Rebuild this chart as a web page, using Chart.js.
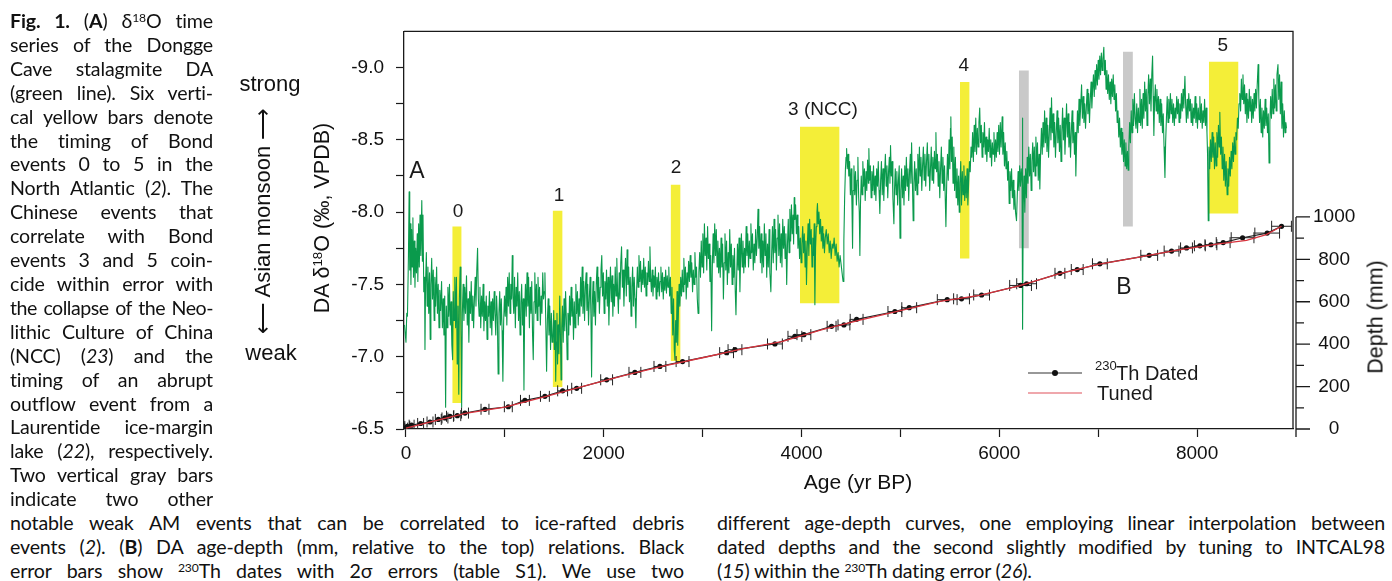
<!DOCTYPE html>
<html lang="en">
<head>
<meta charset="UTF-8" />
<title>Dongge Cave DA δ18O and age-depth</title>
<script src="https://cdn.jsdelivr.net/npm/chart.js"></script>
<style>
  body { margin:0; width:1392px; height:581px; background:#fff; position:relative; overflow:hidden;
         font-family:'Liberation Sans', Arial, sans-serif; color:#111; }
  #chart { position:absolute; left:0; top:0; }
  .cap { position:absolute; font-family:Lato, sans-serif; font-size:19.6px; line-height:23.9px; color:#111; letter-spacing:-0.15px; }
  .cap div { text-align:justify; text-align-last:justify; }
  .cap div.last { text-align-last:left; }
  .lbl { position:absolute; white-space:nowrap; transform:translate(-50%,-50%); font-size:22px; }
  .rot { transform:translate(-50%,-50%) rotate(-90deg); }
  sup { font-size:0.62em; line-height:0; vertical-align:0.5em; }
</style>
</head>
<body>
<canvas id="chart" width="1392" height="500"></canvas>

<!-- caption, left column -->
<div class="cap" style="left:10px; top:9px; width:203px;">
  <div><b>Fig. 1.</b> (<b>A</b>) δ<sup>18</sup>O time</div>
  <div>series of the Dongge</div>
  <div>Cave stalagmite DA</div>
  <div>(green line). Six verti-</div>
  <div>cal yellow bars denote</div>
  <div>the timing of Bond</div>
  <div>events 0 to 5 in the</div>
  <div>North Atlantic (<i>2</i>). The</div>
  <div>Chinese events that</div>
  <div>correlate with Bond</div>
  <div>events 3 and 5 coin-</div>
  <div>cide within error with</div>
  <div style="letter-spacing:-0.5px">the collapse of the Neo-</div>
  <div>lithic Culture of China</div>
  <div>(NCC) (<i>23</i>) and the</div>
  <div>timing of an abrupt</div>
  <div>outflow event from a</div>
  <div>Laurentide ice-margin</div>
  <div>lake (<i>22</i>), respectively.</div>
  <div>Two vertical gray bars</div>
  <div>indicate two other</div>
</div>
<div class="cap" style="left:10px; top:511px; width:674px;">
  <div>notable weak AM events that can be correlated to ice-rafted debris</div>
  <div>events (<i>2</i>). (<b>B</b>) DA age-depth (mm, relative to the top) relations. Black</div>
  <div>error bars show <sup>230</sup>Th dates with 2σ errors (table S1). We use two</div>
</div>
<div class="cap" style="left:717px; top:511px; width:668px;">
  <div>different age-depth curves, one employing linear interpolation between</div>
  <div>dated depths and the second slightly modified by tuning to INTCAL98</div>
  <div class="last">(<i>15</i>) within the <sup>230</sup>Th dating error (<i>26</i>).</div>
</div>

<!-- axis titles -->
<div class="lbl" style="left:270px; top:84px;">strong</div>
<div class="lbl" style="left:271px; top:353px;">weak</div>
<div class="lbl rot" style="left:263px; top:221px;">⟵ Asian monsoon ⟶</div>
<div class="lbl rot" style="left:322px; top:218px; font-size:21.5px;">DA δ<sup>18</sup>O (‰, VPDB)</div>
<div class="lbl rot" style="left:1376px; top:317px; font-size:21.5px;">Depth (mm)</div>
<div class="lbl" style="left:858px; top:482px; font-size:21px;">Age (yr BP)</div>

<script>
const FONT = "'Liberation Sans', Arial, Helvetica, sans-serif";
const INK = '#1a1a1a';

// age axis ticks (yr BP); only every other one is labelled
const ageTicks = [0, 1000, 2000, 3000, 4000, 5000, 6000, 7000, 8000];

// DA stalagmite d18O (yr BP, permil VPDB)
const ageYr = [
  -15, 0, 8, 15, 25, 32, 38, 44, 50, 57,
  63, 70, 76, 84, 91, 98, 106, 114, 120, 128,
  135, 142, 150, 160, 166, 172, 180, 188, 192, 198,
  206, 214, 222, 230, 238, 245, 252, 260, 268, 276,
  285, 292, 300, 310, 318, 326, 334, 342, 350, 360,
  368, 376, 384, 392, 401, 408, 416, 424, 432, 440,
  448, 456, 464, 472, 478, 486, 494, 502, 510, 518,
  526, 534, 540, 548, 556, 563, 570, 578, 586, 594,
  602, 612, 620, 628, 636, 644, 652, 660, 668, 676,
  684, 692, 700, 708, 716, 724, 732, 740, 748, 756,
  764, 772, 780, 788, 796, 804, 812, 820, 828, 836,
  844, 852, 860, 868, 876, 884, 892, 900, 908, 916,
  924, 932, 940, 948, 956, 964, 972, 980, 988, 996,
  1004, 1012, 1020, 1028, 1036, 1044, 1052, 1060, 1068, 1075,
  1082, 1090, 1098, 1106, 1114, 1122, 1130, 1138, 1146, 1154,
  1162, 1170, 1178, 1186, 1193, 1200, 1208, 1216, 1224, 1232,
  1240, 1248, 1256, 1264, 1272, 1280, 1287, 1295, 1303, 1311,
  1319, 1327, 1335, 1343, 1351, 1359, 1367, 1375, 1383, 1391,
  1399, 1405, 1412, 1422, 1430, 1438, 1446, 1454, 1462, 1470,
  1478, 1486, 1494, 1500, 1507, 1514, 1520, 1527, 1533, 1540,
  1547, 1555, 1562, 1568, 1575, 1582, 1590, 1598, 1606, 1614,
  1622, 1630, 1638, 1646, 1654, 1662, 1670, 1678, 1686, 1694,
  1702, 1710, 1718, 1726, 1734, 1742, 1750, 1758, 1766, 1774,
  1782, 1790, 1798, 1806, 1814, 1822, 1830, 1838, 1846, 1854,
  1862, 1870, 1877, 1884, 1892, 1900, 1908, 1916, 1924, 1932,
  1940, 1948, 1956, 1964, 1972, 1980, 1988, 1996, 2004, 2012,
  2020, 2028, 2036, 2044, 2052, 2060, 2068, 2076, 2084, 2092,
  2100, 2108, 2116, 2124, 2132, 2140, 2148, 2156, 2164, 2172,
  2180, 2188, 2196, 2204, 2212, 2220, 2228, 2236, 2244, 2252,
  2260, 2268, 2276, 2284, 2292, 2300, 2308, 2316, 2325, 2332,
  2340, 2348, 2356, 2364, 2372, 2380, 2388, 2396, 2404, 2412,
  2420, 2428, 2436, 2444, 2452, 2460, 2467, 2474, 2482, 2490,
  2498, 2506, 2514, 2522, 2530, 2538, 2546, 2554, 2562, 2570,
  2578, 2586, 2594, 2602, 2610, 2618, 2626, 2634, 2642, 2650,
  2658, 2666, 2674, 2682, 2690, 2698, 2706, 2713, 2720, 2727,
  2734, 2741, 2748, 2755, 2762, 2770, 2778, 2786, 2794, 2802,
  2810, 2818, 2826, 2834, 2842, 2850, 2858, 2866, 2874, 2882,
  2890, 2898, 2906, 2914, 2922, 2930, 2938, 2946, 2954, 2962,
  2970, 2978, 2986, 2994, 3002, 3010, 3018, 3026, 3034, 3042,
  3050, 3058, 3066, 3074, 3082, 3091, 3098, 3106, 3114, 3122,
  3130, 3138, 3146, 3154, 3162, 3170, 3178, 3186, 3194, 3202,
  3210, 3218, 3226, 3234, 3242, 3250, 3258, 3266, 3274, 3282,
  3290, 3298, 3306, 3314, 3322, 3330, 3337, 3344, 3352, 3360,
  3368, 3377, 3384, 3392, 3400, 3408, 3416, 3424, 3432, 3440,
  3448, 3456, 3464, 3472, 3480, 3488, 3496, 3504, 3512, 3520,
  3528, 3536, 3544, 3552, 3560, 3568, 3576, 3584, 3592, 3600,
  3608, 3616, 3624, 3632, 3640, 3648, 3656, 3664, 3672, 3680,
  3690, 3698, 3706, 3714, 3722, 3730, 3738, 3746, 3754, 3762,
  3770, 3778, 3786, 3794, 3802, 3810, 3818, 3826, 3834, 3842,
  3850, 3858, 3866, 3874, 3882, 3890, 3898, 3906, 3914, 3920,
  3926, 3932, 3940, 3948, 3956, 3964, 3972, 3980, 3988, 3996,
  4004, 4012, 4020, 4028, 4036, 4044, 4050, 4058, 4066, 4074,
  4082, 4090, 4098, 4106, 4114, 4122, 4128, 4135, 4142, 4150,
  4156, 4161, 4168, 4176, 4184, 4192, 4200, 4208, 4216, 4224,
  4232, 4240, 4250, 4260, 4270, 4280, 4290, 4300, 4310, 4320,
  4330, 4340, 4350, 4360, 4370, 4380, 4390, 4400, 4410, 4420,
  4428, 4436, 4444, 4450, 4456, 4462, 4470, 4478, 4486, 4494,
  4502, 4510, 4516, 4522, 4530, 4538, 4546, 4555, 4562, 4570,
  4578, 4584, 4590, 4596, 4604, 4612, 4620, 4628, 4636, 4644,
  4652, 4660, 4668, 4676, 4681, 4688, 4696, 4704, 4712, 4720,
  4728, 4736, 4744, 4752, 4760, 4768, 4776, 4784, 4792, 4800,
  4808, 4816, 4824, 4832, 4840, 4848, 4856, 4864, 4872, 4880,
  4888, 4894, 4900, 4908, 4916, 4924, 4934, 4940, 4948, 4956,
  4964, 4972, 4980, 4988, 4996, 5004, 5012, 5020, 5028, 5036,
  5044, 5052, 5060, 5068, 5076, 5084, 5092, 5100, 5106, 5113,
  5120, 5129, 5136, 5144, 5152, 5160, 5168, 5176, 5184, 5192,
  5200, 5208, 5216, 5224, 5232, 5240, 5248, 5256, 5264, 5272,
  5280, 5288, 5296, 5304, 5312, 5320, 5328, 5336, 5344, 5352,
  5359, 5366, 5374, 5382, 5390, 5398, 5406, 5414, 5422, 5430,
  5438, 5446, 5454, 5460, 5468, 5476, 5484, 5492, 5500, 5506,
  5510, 5516, 5524, 5532, 5540, 5548, 5556, 5564, 5572, 5580,
  5588, 5595, 5602, 5610, 5618, 5626, 5634, 5642, 5650, 5658,
  5666, 5674, 5682, 5690, 5698, 5706, 5714, 5722, 5730, 5738,
  5746, 5754, 5762, 5770, 5778, 5786, 5794, 5802, 5810, 5818,
  5826, 5834, 5842, 5850, 5858, 5866, 5874, 5882, 5890, 5898,
  5906, 5914, 5922, 5930, 5938, 5946, 5954, 5962, 5970, 5978,
  5986, 5994, 6002, 6010, 6018, 6029, 6036, 6044, 6052, 6060,
  6068, 6076, 6084, 6092, 6100, 6108, 6116, 6124, 6132, 6140,
  6148, 6156, 6164, 6174, 6182, 6190, 6198, 6206, 6214, 6222,
  6230, 6234, 6237, 6242, 6250, 6258, 6266, 6274, 6282, 6290,
  6298, 6306, 6314, 6322, 6330, 6338, 6346, 6354, 6362, 6370,
  6378, 6386, 6394, 6402, 6410, 6418, 6426, 6434, 6442, 6450,
  6458, 6466, 6474, 6482, 6490, 6498, 6506, 6514, 6522, 6528,
  6536, 6544, 6552, 6560, 6568, 6576, 6584, 6592, 6600, 6608,
  6616, 6624, 6632, 6640, 6648, 6656, 6664, 6672, 6680, 6688,
  6696, 6704, 6712, 6720, 6728, 6736, 6744, 6752, 6760, 6768,
  6774, 6782, 6790, 6798, 6806, 6814, 6822, 6832, 6840, 6848,
  6856, 6864, 6872, 6880, 6888, 6896, 6904, 6912, 6920, 6928,
  6936, 6944, 6952, 6960, 6968, 6976, 6984, 6992, 7000, 7008,
  7016, 7024, 7032, 7040, 7048, 7057, 7064, 7072, 7080, 7088,
  7096, 7104, 7112, 7120, 7128, 7136, 7144, 7152, 7160, 7168,
  7176, 7184, 7192, 7200, 7208, 7216, 7224, 7232, 7240, 7248,
  7256, 7264, 7272, 7280, 7288, 7296, 7303, 7310, 7318, 7326,
  7334, 7342, 7350, 7358, 7366, 7374, 7382, 7390, 7398, 7406,
  7414, 7422, 7430, 7438, 7446, 7454, 7462, 7470, 7478, 7486,
  7494, 7502, 7510, 7518, 7526, 7534, 7542, 7550, 7556, 7563,
  7570, 7578, 7586, 7594, 7602, 7610, 7618, 7626, 7634, 7642,
  7650, 7658, 7666, 7675, 7682, 7690, 7698, 7706, 7714, 7722,
  7730, 7738, 7746, 7754, 7762, 7770, 7778, 7786, 7794, 7802,
  7810, 7818, 7826, 7834, 7842, 7850, 7858, 7866, 7877, 7884,
  7892, 7900, 7908, 7916, 7924, 7932, 7940, 7948, 7956, 7964,
  7972, 7980, 7988, 7996, 8004, 8012, 8020, 8028, 8036, 8044,
  8052, 8060, 8068, 8076, 8084, 8092, 8100, 8106, 8113, 8120,
  8128, 8136, 8144, 8152, 8160, 8168, 8176, 8184, 8192, 8200,
  8208, 8216, 8224, 8230, 8238, 8246, 8254, 8262, 8270, 8278,
  8286, 8294, 8304, 8312, 8320, 8328, 8336, 8344, 8352, 8360,
  8368, 8376, 8384, 8392, 8400, 8408, 8416, 8424, 8432, 8440,
  8448, 8456, 8464, 8472, 8480, 8488, 8496, 8504, 8512, 8520,
  8528, 8536, 8544, 8552, 8560, 8568, 8576, 8584, 8592, 8600,
  8608, 8617, 8624, 8632, 8640, 8648, 8656, 8664, 8672, 8680,
  8688, 8696, 8704, 8712, 8720, 8728, 8736, 8744, 8752, 8760,
  8768, 8776, 8784, 8792, 8800, 8808, 8818, 8826, 8834, 8842,
  8850, 8858, 8866, 8874, 8882, 8890, 8898, 8904
];
const d18O = [
  -7.22, -7.10, -7.30, -7.28, -7.70, -8.14, -7.60, -7.92, -7.50, -7.88,
  -7.62, -7.96, -7.55, -7.80, -7.48, -7.75, -7.58, -7.85, -7.52, -7.92,
  -7.62, -7.98, -7.70, -8.08, -7.66, -7.98, -7.45, -7.55, -7.05, -7.50,
  -7.72, -7.35, -7.62, -7.30, -7.58, -7.12, -7.50, -7.68, -7.40, -7.60,
  -7.25, -7.55, -7.35, -7.62, -7.30, -7.50, -7.20, -7.46, -7.32, -7.52,
  -7.20, -7.40, -7.15, -7.42, -6.65, -7.35, -7.20, -7.48, -7.28, -7.50,
  -7.22, -7.38, -7.08, -6.98, -7.45, -7.25, -7.55, -7.20, -7.55, -6.95,
  -7.35, -6.74, -7.40, -7.62, -7.20, -6.65, -7.30, -7.50, -7.25, -7.48,
  -7.30, -7.56, -7.22, -7.40, -7.10, -7.45, -7.30, -7.52, -7.25, -7.42,
  -7.20, -7.40, -7.55, -7.35, -7.60, -7.75, -7.40, -7.28, -7.48, -7.20,
  -7.42, -7.28, -7.50, -7.18, -7.38, -7.25, -7.42, -7.12, -7.35, -7.28,
  -7.45, -7.20, -7.38, -7.15, -7.40, -7.25, -7.45, -7.30, -7.15, -7.42,
  -7.28, -6.88, -7.30, -7.45, -7.22, -7.40, -7.18, -6.83, -7.25, -7.42,
  -7.28, -7.48, -7.22, -7.55, -7.35, -7.58, -7.30, -7.50, -7.40, -7.70,
  -7.42, -7.30, -7.55, -7.20, -7.48, -7.35, -7.58, -7.25, -7.45, -7.15,
  -7.38, -7.50, -7.22, -7.40, -6.77, -7.30, -7.50, -7.28, -7.58, -7.35,
  -7.55, -7.20, -7.48, -7.30, -7.52, -7.15, -6.98, -7.38, -7.58, -7.30,
  -7.50, -7.25, -7.55, -7.35, -7.48, -7.22, -7.42, -7.30, -7.58, -7.40,
  -7.45, -7.58, -7.30, -6.90, -7.25, -7.40, -7.15, -7.35, -7.05, -7.30,
  -7.10, -7.12, -7.32, -7.05, -7.25, -6.83, -7.10, -7.30, -6.95, -7.22,
  -7.02, -7.42, -7.15, -6.84, -7.20, -7.35, -7.10, -7.40, -7.18, -7.45,
  -7.25, -6.98, -7.30, -7.15, -7.42, -7.22, -7.48, -7.28, -7.40, -7.12,
  -7.38, -7.20, -7.50, -7.30, -7.45, -7.22, -7.40, -7.28, -7.55, -7.35,
  -7.62, -7.30, -7.52, -7.25, -7.48, -7.58, -7.32, -7.50, -7.22, -7.40,
  -7.55, -7.30, -6.86, -7.35, -7.52, -7.28, -7.45, -7.22, -7.50, -7.62,
  -7.38, -7.55, -7.30, -7.48, -7.60, -7.70, -7.42, -7.58, -7.30, -7.52,
  -7.40, -7.60, -7.35, -7.55, -7.22, -7.45, -7.62, -7.38, -7.56, -7.28,
  -7.50, -7.35, -7.62, -7.42, -7.68, -7.45, -7.30, -7.58, -7.40, -7.65,
  -7.76, -7.48, -7.60, -7.35, -7.55, -7.68, -7.42, -7.74, -7.50, -7.62,
  -7.38, -7.55, -7.28, -7.48, -7.62, -7.35, -7.55, -7.40, -7.20, -7.45,
  -7.62, -7.48, -7.70, -7.52, -7.66, -7.45, -7.60, -7.50, -7.68, -7.48,
  -7.62, -7.42, -7.58, -7.50, -7.66, -7.52, -7.76, -7.55, -7.45, -7.60,
  -7.42, -7.56, -7.48, -7.62, -7.40, -7.55, -7.45, -7.58, -7.42, -7.52,
  -7.62, -7.45, -7.58, -7.40, -7.55, -7.46, -7.60, -7.44, -7.56, -7.48,
  -7.62, -7.42, -7.55, -7.30, -7.48, -7.15, -7.40, -7.05, -6.98, -7.25,
  -7.10, -7.45, -7.08, -7.30, -7.50, -7.35, -7.55, -7.42, -7.60, -7.45,
  -7.68, -7.50, -7.62, -7.40, -7.58, -7.48, -7.66, -7.52, -7.70, -7.55,
  -7.65, -7.45, -7.60, -7.50, -7.72, -7.55, -7.62, -7.40, -7.30, -7.58,
  -7.72, -7.55, -7.80, -7.62, -7.85, -7.58, -7.92, -7.70, -7.82, -7.60,
  -7.90, -7.68, -7.78, -7.52, -7.70, -7.18, -7.62, -7.85, -7.65, -7.92,
  -7.70, -7.88, -7.62, -7.80, -7.58, -7.75, -7.55, -7.82, -7.62, -7.78,
  -7.40, -7.65, -7.85, -7.60, -7.80, -7.50, -7.72, -7.58, -7.88, -7.62,
  -7.78, -7.50, -7.70, -7.55, -7.75, -7.45, -7.29, -7.55, -7.78, -7.60,
  -7.82, -7.45, -7.68, -7.85, -7.62, -7.80, -7.58, -7.75, -7.62, -7.90,
  -7.70, -7.85, -7.62, -7.80, -7.68, -7.92, -7.72, -7.85, -7.60, -7.78,
  -7.65, -7.88, -7.70, -7.82, -8.02, -7.75, -7.90, -7.65, -7.85, -7.58,
  -7.80, -7.62, -7.92, -7.70, -7.85, -7.55, -7.78, -7.62, -7.88, -7.58,
  -7.45, -7.72, -7.90, -7.65, -7.95, -7.72, -7.88, -7.60, -7.82, -7.98,
  -7.70, -7.92, -7.65, -7.85, -7.62, -7.95, -7.75, -7.90, -7.68, -7.85,
  -7.50, -7.78, -7.95, -7.72, -8.02, -7.80, -8.05, -7.85, -7.98, -7.78,
  -8.10, -7.95, -8.05, -7.85, -7.98, -7.75, -7.90, -7.68, -7.82, -7.65,
  -7.78, -7.90, -7.72, -7.85, -7.62, -7.80, -7.50, -7.75, -7.92, -7.70,
  -7.95, -7.78, -7.88, -7.62, -7.82, -7.70, -7.92, -7.36, -7.75, -7.90,
  -8.00, -8.06, -7.92, -8.00, -7.85, -7.95, -7.80, -7.90, -7.75, -7.85,
  -7.72, -7.82, -7.88, -7.78, -7.85, -7.72, -7.80, -7.68, -7.78, -7.75,
  -7.82, -7.70, -7.78, -7.66, -7.72, -7.62, -7.70, -7.64, -7.58, -7.52,
  -7.80, -8.10, -8.30, -8.38, -8.44, -8.30, -8.40, -8.25, -8.35, -8.12,
  -8.30, -8.05, -7.75, -8.15, -8.32, -8.12, -8.28, -8.05, -8.22, -8.38,
  -8.10, -8.00, -7.70, -8.05, -8.25, -8.12, -8.35, -8.18, -8.30, -8.08,
  -8.28, -8.15, -8.36, -8.20, -8.44, -8.22, -8.32, -8.10, -8.28, -8.15,
  -8.32, -8.12, -8.25, -8.08, -8.30, -8.18, -8.35, -8.15, -7.99, -8.22,
  -8.35, -8.12, -8.30, -8.08, -8.26, -8.40, -8.18, -8.32, -8.10, -8.28,
  -8.38, -8.20, -8.46, -8.25, -8.35, -8.10, -7.92, -8.15, -8.30, -8.12,
  -8.28, -8.05, -8.22, -8.32, -7.82, -8.15, -8.30, -8.10, -8.25, -8.05,
  -8.32, -8.15, -8.38, -8.18, -8.30, -8.08, -8.28, -8.40, -8.20, -8.48,
  -8.25, -7.94, -8.20, -8.35, -8.15, -8.30, -8.12, -8.40, -8.20, -8.45,
  -8.25, -8.38, -8.15, -8.32, -8.45, -8.22, -8.40, -8.18, -8.35, -8.48,
  -8.25, -8.40, -8.15, -8.30, -8.45, -8.22, -8.38, -8.20, -8.42, -8.30,
  -8.55, -8.28, -8.40, -8.18, -8.35, -8.10, -8.30, -8.45, -8.20, -8.38,
  -8.15, -8.32, -8.08, -7.90, -8.20, -8.40, -8.22, -8.50, -8.30, -8.58,
  -8.66, -8.35, -8.52, -8.20, -8.45, -8.15, -8.38, -8.10, -8.30, -8.05,
  -8.25, -8.00, -8.20, -8.35, -8.05, -8.28, -8.12, -8.32, -8.08, -8.25,
  -8.10, -8.30, -8.05, -8.20, -8.35, -8.28, -8.45, -8.38, -8.55, -8.35,
  -8.60, -8.42, -8.65, -8.40, -8.58, -8.45, -8.62, -8.72, -8.48, -8.60,
  -8.38, -8.55, -8.45, -8.62, -8.40, -8.52, -8.35, -8.50, -8.42, -8.58,
  -8.38, -8.50, -8.32, -8.48, -8.40, -8.55, -8.35, -8.50, -8.38, -8.55,
  -8.42, -8.60, -8.40, -8.62, -8.45, -8.66, -8.40, -8.55, -8.32, -8.48,
  -8.30, -8.42, -8.22, -8.35, -8.06, -8.28, -8.15, -8.30, -8.10, -8.22,
  -8.02, -8.15, -8.00, -7.94, -8.12, -8.28, -8.15, -8.32, -8.18, -8.30,
  -8.20, -8.65, -7.19, -8.05, -8.25, -8.00, -8.30, -8.10, -8.38, -8.20,
  -8.45, -8.25, -8.40, -8.15, -8.35, -8.48, -8.28, -8.45, -8.25, -8.52,
  -8.32, -8.48, -8.22, -8.40, -8.16, -8.42, -8.58, -8.40, -8.62, -8.45,
  -8.70, -8.48, -8.65, -8.42, -8.60, -8.38, -8.55, -8.72, -8.50, -8.79,
  -8.55, -8.68, -8.45, -8.62, -8.38, -8.55, -8.70, -8.48, -8.65, -8.42,
  -8.60, -8.35, -8.55, -8.72, -8.50, -8.65, -8.40, -8.58, -8.75, -8.52,
  -8.68, -8.45, -8.62, -8.38, -8.55, -8.70, -8.48, -8.62, -8.40, -8.55,
  -8.25, -8.50, -8.70, -8.55, -8.78, -8.60, -8.72, -8.88, -8.65, -8.80,
  -8.62, -8.75, -8.58, -8.72, -8.85, -8.68, -8.82, -8.62, -8.78, -8.90,
  -8.72, -8.85, -8.95, -8.80, -8.98, -8.85, -9.02, -8.88, -9.05, -8.92,
  -9.08, -8.95, -9.10, -8.98, -9.06, -9.14, -8.95, -9.05, -8.85, -8.98,
  -8.82, -8.95, -8.78, -8.90, -8.75, -8.92, -8.80, -8.95, -8.78, -8.88,
  -8.70, -8.82, -8.62, -8.70, -8.52, -8.65, -8.45, -8.58, -8.40, -8.55,
  -8.35, -8.50, -8.32, -8.48, -8.30, -8.42, -8.29, -8.45, -8.62, -8.48,
  -8.70, -8.55, -8.78, -8.60, -8.82, -8.65, -8.58, -8.75, -8.55, -8.72,
  -8.62, -8.85, -8.60, -8.78, -8.58, -8.82, -8.65, -8.90, -8.70, -8.85,
  -8.60, -8.80, -8.95, -8.75, -8.92, -8.70, -8.95, -9.08, -8.80, -8.53,
  -8.75, -8.88, -8.70, -8.85, -8.68, -8.80, -8.62, -8.78, -8.60, -8.75,
  -8.55, -8.68, -8.45, -8.24, -8.48, -8.65, -8.80, -8.62, -8.78, -8.65,
  -8.82, -8.68, -8.78, -8.62, -8.75, -8.60, -8.72, -8.65, -8.80, -8.68,
  -8.78, -8.62, -8.75, -8.65, -8.82, -8.70, -8.85, -8.72, -8.94, -8.75,
  -8.62, -8.78, -8.65, -8.82, -8.70, -8.78, -8.62, -8.75, -8.60, -8.72,
  -8.65, -8.80, -8.62, -8.75, -8.58, -8.72, -8.64, -8.80, -8.62, -8.75,
  -8.58, -8.70, -8.62, -8.78, -8.60, -8.72, -8.55, -8.40, -7.94, -8.45,
  -8.30, -8.50, -8.35, -8.55, -8.38, -8.52, -8.30, -8.48, -8.32, -8.55,
  -8.38, -8.60, -8.45, -8.69, -8.40, -8.52, -8.30, -8.45, -8.22, -8.40,
  -8.18, -8.35, -8.12, -8.30, -8.18, -8.38, -8.25, -8.42, -8.30, -8.48,
  -8.35, -8.52, -8.40, -8.55, -8.50, -8.65, -8.58, -8.75, -8.82, -8.70,
  -8.92, -8.78, -8.95, -8.75, -8.88, -8.68, -8.82, -8.62, -8.78, -8.65,
  -8.85, -8.70, -8.80, -8.62, -8.78, -8.65, -8.82, -8.70, -8.85, -8.72,
  -8.88, -9.02, -8.80, -8.62, -8.78, -8.55, -8.72, -8.52, -8.70, -8.58,
  -8.78, -8.60, -8.72, -8.55, -8.68, -8.34, -8.62, -8.80, -8.65, -8.85,
  -8.68, -8.92, -8.72, -8.88, -8.70, -8.95, -9.02, -8.78, -8.95, -8.68,
  -8.90, -8.58, -8.75, -8.52, -8.70, -8.55, -8.62, -8.58
];

// Bond events (yellow) and the two other weak AM events (gray): age span and d18O span
const bondStart = [468, 1483, 2676, 3984, 5602, 8119];
const bondEnd = [563, 1584, 2777, 4385, 5700, 8419];
const bondTop = [-7.90, -8.01, -8.19, -8.59, -8.90, -9.04];
const bondBottom = [-6.68, -6.79, -6.97, -7.37, -7.68, -7.99];
const grayStart = [6198, 7250];
const grayEnd = [6299, 7351];
const grayTop = [-8.98, -9.11];
const grayBottom = [-7.75, -7.90];

// 230Th dates: age (yr BP), depth (mm), 2 sigma error (yr)
const dateAge = [2, 13, 57, 148, 243, 327, 394, 445, 519, 597, 799, 1035, 1203, 1405, 1584, 1726,
  2029, 2315, 2568, 2797, 3242, 3327, 3731, 3933, 4024, 4304, 4429, 4557, 4944, 5089, 5473, 5618,
  5821, 6215, 6276, 6613, 6788, 7017, 7516, 7742, 7893, 8028, 8140, 8264, 8460, 8709, 8854];
const dateDepth = [4, 12, 18, 26, 33, 45, 52, 60, 63, 75, 93, 105, 135, 154, 180, 192,
  232, 267, 295, 318, 360, 374, 401, 437, 445, 484, 491, 517, 554, 572, 610, 614,
  632, 677, 685, 734, 752, 779, 819, 839, 854, 864, 869, 879, 902, 924, 956];
const dateErr = [15, 25, 25, 30, 30, 30, 30, 35, 35, 35, 40, 40, 45, 45, 50, 50,
  60, 60, 60, 65, 70, 70, 75, 70, 70, 45, 60, 65, 70, 75, 100, 80,
  80, 110, 100, 50, 60, 75, 85, 75, 60, 55, 60, 70, 115, 125, 100];

// tuned age model
const tunedAge = [0, 250, 600, 1000, 1400, 1800, 2200, 2600, 3000, 3400, 3800, 4200, 4600,
  5000, 5400, 5800, 6200, 6600, 7000, 7400, 7800, 8200, 8500, 8700, 8854];
const tunedDepth = [4, 34, 74, 103, 152, 202, 252, 297, 336, 378, 412, 468, 515,
  558, 602, 630, 675, 731, 776, 809, 844, 872, 890, 917, 956];

const labelText = ['A', '0', '1', '2', '3 (NCC)', '4', '5', 'B'];
const labelAge = [111, 526, 1547, 2730, 4216, 5642, 8261, 7260];
const labelVal = [-8.28, -8.00, -8.11, -8.31, -8.71, -9.01, -9.15, -7.48];

Chart.defaults.font.family = FONT;
Chart.defaults.font.size = 19;
Chart.defaults.color = '#111';

const datasets = [];
bondStart.forEach((s, i) => datasets.push({
  data: [{x: s, y: bondTop[i]}, {x: bondEnd[i], y: bondTop[i]}],
  yAxisID: 'y', fill: {value: bondBottom[i]}, backgroundColor: '#f4ee38',
  borderWidth: 0, pointRadius: 0, order: 10
}));
grayStart.forEach((s, i) => datasets.push({
  data: [{x: s, y: grayTop[i]}, {x: grayEnd[i], y: grayTop[i]}],
  yAxisID: 'y', fill: {value: grayBottom[i]}, backgroundColor: '#c9c9c9',
  borderWidth: 0, pointRadius: 0, order: 10
}));

datasets.push({
  data: ageYr.map((a, i) => ({x: a, y: d18O[i]})),
  yAxisID: 'y', borderColor: '#0a9a4c', borderWidth: 1.1, borderJoinStyle: 'round',
  pointRadius: 0, fill: false, order: 5
});

// error bars: horizontal bar plus end caps, broken with nulls
const capMm = 26;
const errPts = [];
dateAge.forEach((a, i) => {
  const d = dateDepth[i], e = dateErr[i];
  errPts.push({x: a - e, y: d}, {x: a + e, y: d}, {x: a + e, y: null},
    {x: a - e, y: d - capMm}, {x: a - e, y: d + capMm}, {x: a - e, y: null},
    {x: a + e, y: d - capMm}, {x: a + e, y: d + capMm}, {x: a + e, y: null});
});
datasets.push({
  data: errPts, yAxisID: 'y2', borderColor: '#222', borderWidth: 1,
  pointRadius: 0, fill: false, spanGaps: false, order: 4
});
datasets.push({
  data: dateAge.map((a, i) => ({x: a, y: dateDepth[i]})),
  yAxisID: 'y2', borderColor: '#222', borderWidth: 1.2, pointRadius: 2.6,
  pointBackgroundColor: '#111', pointBorderWidth: 0, fill: false, order: 3
});
datasets.push({
  data: tunedAge.map((a, i) => ({x: a, y: tunedDepth[i]})),
  yAxisID: 'y2', borderColor: '#d8343e', borderWidth: 1.3,
  pointRadius: 0, fill: false, order: 2
});

const extras = {
  id: 'extras',
  afterDraw(c) {
    const ctx = c.ctx;
    const {left, right, top, bottom} = c.chartArea;
    ctx.save();
    ctx.strokeStyle = INK;
    ctx.lineWidth = 1.3;
    // frame top and right
    ctx.beginPath();
    ctx.moveTo(left, top); ctx.lineTo(right, top); ctx.lineTo(right, bottom);
    ctx.stroke();
    // depth axis: line and ticks only for 0-1000 mm
    const s = c.scales.y2;
    const ax = right + 3;
    ctx.beginPath();
    ctx.moveTo(ax, s.getPixelForValue(1000)); ctx.lineTo(ax, bottom + 8);
    s.ticks.forEach(t => {
      const y = s.getPixelForValue(t.value);
      ctx.moveTo(ax, y); ctx.lineTo(ax + (t.value % 200 === 0 ? 14 : 8), y);
    });
    ctx.stroke();

    // event labels
    const xs = c.scales.x, ys = c.scales.y;
    ctx.fillStyle = INK;
    ctx.textAlign = 'center';
    ctx.textBaseline = 'middle';
    labelText.forEach((t, i) => {
      ctx.font = (t === 'A' || t === 'B' ? '23px ' : '19px ') + FONT;
      ctx.fillText(t, xs.getPixelForValue(labelAge[i]), ys.getPixelForValue(labelVal[i]));
    });

    // legend
    ctx.lineWidth = 1.2;
    ctx.strokeStyle = '#333';
    ctx.beginPath(); ctx.moveTo(1028, 373); ctx.lineTo(1082, 373); ctx.stroke();
    ctx.fillStyle = '#111';
    ctx.beginPath(); ctx.arc(1055, 373, 3, 0, Math.PI * 2); ctx.fill();
    ctx.strokeStyle = '#e0505a';
    ctx.beginPath(); ctx.moveTo(1028, 393); ctx.lineTo(1082, 393); ctx.stroke();
    ctx.fillStyle = INK;
    ctx.textAlign = 'left';
    ctx.textBaseline = 'alphabetic';
    ctx.font = '13px ' + FONT;
    ctx.fillText('230', 1095, 370);
    ctx.font = '20px ' + FONT;
    ctx.fillText('Th Dated', 1116, 380);
    ctx.fillText('Tuned', 1097, 400);
    ctx.restore();
  }
};

new Chart(document.getElementById('chart'), {
  type: 'line',
  data: {datasets},
  options: {
    responsive: false,
    animation: false,
    layout: {padding: {top: 12, left: 0, right: 0, bottom: 0}},
    plugins: {legend: {display: false}, tooltip: {enabled: false}},
    elements: {line: {tension: 0}},
    scales: {
      x: {
        type: 'linear', position: 'bottom', min: -20, max: 8970,
        ticks: {autoSkip: false, minRotation: 0, maxRotation: 0, padding: 5,
          callback: v => (v % 2000 === 0 ? String(v) : '')},
        afterBuildTicks: s => { s.ticks = ageTicks.map(v => ({value: v})); },
        grid: {drawOnChartArea: false, drawTicks: true, tickLength: 8, color: INK, tickWidth: 1.2},
        border: {color: INK, width: 1.3},
        afterFit: s => { s.height = 71; }
      },
      y: {
        type: 'linear', position: 'left', min: -9.25, max: -6.5, reverse: true,
        ticks: {stepSize: 0.25, includeBounds: false, autoSkip: false, padding: 12,
          callback: v => (Math.abs(v * 2 - Math.round(v * 2)) < 1e-6 ? v.toFixed(1) : '')},
        afterBuildTicks: s => { s.ticks = s.ticks.filter(t => t.value > -9.2); },
        grid: {drawOnChartArea: false, drawTicks: true, tickLength: 8, color: INK, tickWidth: 1.2},
        border: {color: INK, width: 1.3},
        afterFit: s => { s.width = 404; }
      },
      y2: {
        type: 'linear', position: 'right', min: 0, max: 1875,
        ticks: {stepSize: 100, includeBounds: false, autoSkip: false, padding: 20, crossAlign: 'center',
          callback: v => (v % 200 === 0 ? v : '')},
        afterBuildTicks: s => { s.ticks = s.ticks.filter(t => t.value <= 1000); },
        grid: {display: false, drawTicks: false},
        border: {display: false},
        afterFit: s => { s.width = 99; }
      }
    }
  },
  plugins: [extras]
});
</script>
</body>
</html>
